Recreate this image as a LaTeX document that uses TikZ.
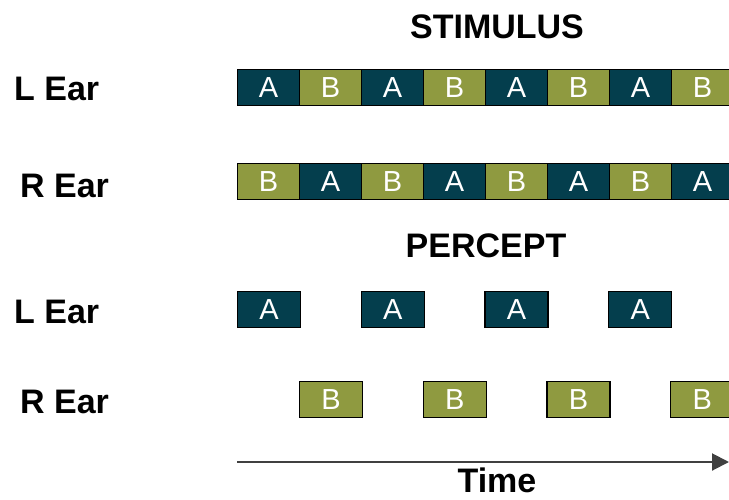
\documentclass[tikz,border=0pt]{standalone}
\usepackage{fontspec}
\setmainfont{Liberation Sans}
\usetikzlibrary{arrows.meta}
\definecolor{teal}{RGB}{4,62,77}
\definecolor{olive}{RGB}{143,154,64}
\definecolor{arrowgray}{RGB}{64,64,64}
\tikzset{
  lab/.style={font=\fontsize{34}{34}\selectfont\bfseries, inner sep=0pt, anchor=base west},
  ttl/.style={font=\fontsize{34}{34}\selectfont\bfseries, inner sep=0pt, anchor=base},
  boxbase/.style={draw=black, line width=1.3pt, minimum width=62pt, minimum height=36pt, inner sep=0pt, text=white, font=\fontsize{29}{29}\selectfont, anchor=north west},
  boxA/.style={boxbase, fill=teal},
  boxB/.style={boxbase, fill=olive},
}
\begin{document}
\begin{tikzpicture}[x=1pt,y=-1pt]
\useasboundingbox (0,0) rectangle (729,499);
\begin{scope}
\clip (0,0) rectangle (729,499);
% titles and labels
\node[ttl] (stim) at (497,38) {STIMULUS};
\node[ttl] (perc) at (486,257) {PERCEPT};
\node[lab] (l1) at (14,100) {L Ear};
\node[lab] (r1) at (20,197) {R Ear};
\node[lab] (l2) at (14,323) {L Ear};
\node[lab] (r2) at (20,413) {R Ear};
% stimulus rows
\foreach \i in {0,2,4,6} {
  \node[boxA] (sl\i) at (237+62*\i,69) {A};
  \node[boxB] (sr\i) at (237+62*\i,162.5) {B};
}
\foreach \i in {1,3,5,7} {
  \node[boxB] (sl\i) at (237+62*\i,69) {B};
  \node[boxA] (sr\i) at (237+62*\i,162.5) {A};
}
% percept rows
\foreach \i in {0,1,2,3} {
  \node[boxA, minimum width=63pt] (pl\i) at (237+123.7*\i,291) {A};
  \node[boxB, minimum width=63pt] (pr\i) at (299+123.7*\i,380.5) {B};
}
% time arrow
\coordinate (t0) at (237,462);
\coordinate (t1) at (729,462);
\draw[arrowgray, line width=2pt, -{Triangle[length=17pt,width=17pt]}] (t0) -- (t1);
\node[ttl, text depth=0pt] (time) at (497,492) {Time};
\end{scope}
\end{tikzpicture}
\end{document}
